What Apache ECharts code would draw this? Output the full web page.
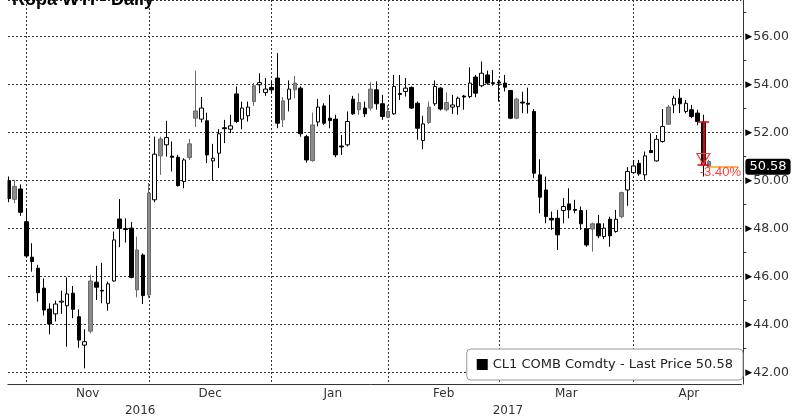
<!DOCTYPE html>
<html>
<head>
<meta charset="utf-8">
<script src="https://cdn.jsdelivr.net/npm/echarts@6/dist/echarts.min.js"></script>
<style>
  html, body { margin: 0; padding: 0; background: #fff; }
  #chart { width: 792px; height: 417px; }
</style>
</head>
<body>
<div id="chart"></div>
<script>
// trading days on the axis
const firstDay = "2016-10-25";
const lastDay = "2017-04-27";
const firstCandle = "2016-10-26";
const holidays = ["2016-11-24", "2016-12-26", "2017-01-02", "2017-01-16", "2017-02-20", "2017-04-14"];
const monthNames = ["Jan", "Feb", "Mar", "Apr", "May", "Jun", "Jul", "Aug", "Sep", "Oct", "Nov", "Dec"];

// candles 2016-10-26 .. 2017-04-20, one line per month
const opens = [
  50.00, 49.22, 49.65, 48.29,
  46.81, 46.35, 45.52, 44.65, 44.45, 44.94, 44.79, 45.31, 44.33, 43.15, 43.73, 45.77, 45.43, 44.89, 45.82, 48.40, 48.00, 48.02, 45.45, 46.90, 45.24,
  49.20, 51.03, 51.49, 51.02, 50.97, 49.96, 50.96, 52.60, 52.56, 52.49, 50.82, 51.14, 52.20, 52.14, 53.61, 52.56, 52.70, 53.29, 53.99, 53.67, 53.88,
  54.27, 52.53, 53.39, 53.78, 53.85, 51.83, 50.83, 52.44, 53.11, 52.60, 52.56, 51.44, 51.49, 53.39, 52.95, 53.02, 53.02, 53.78, 53.20, 52.64,
  52.78, 53.63, 53.71, 53.88, 53.22, 51.67, 52.42, 53.20, 53.85, 52.95, 53.06, 53.08, 53.52, 53.50, 54.31, 53.95, 54.40, 54.04, 54.10,
  54.06, 53.75, 52.60, 53.27, 53.22, 52.88, 50.24, 49.61, 48.43, 48.43, 48.75, 49.03, 48.80, 48.75, 47.99, 47.98, 48.20, 47.67, 48.39, 47.88, 48.50, 49.61, 50.33,
  50.72, 50.24, 51.25, 50.82, 51.63, 52.35, 53.15, 53.43, 52.88, 52.95, 52.81, 52.43, 50.79
];
const closes = [
  49.25, 49.76, 48.68, 46.86,
  46.63, 45.33, 44.61, 44.03, 44.86, 44.98, 45.28, 44.64, 43.36, 43.29, 45.82, 45.56, 45.40, 45.70, 47.53, 48.02, 47.96, 45.97, 47.11, 45.21, 49.48,
  51.10, 51.73, 51.79, 50.97, 49.79, 50.86, 51.53, 52.90, 53.02, 51.07, 50.93, 51.95, 52.16, 52.28, 52.46, 53.02, 53.06, 53.95, 54.08, 53.81, 53.78,
  52.39, 53.32, 53.81, 54.06, 51.95, 50.86, 52.32, 53.06, 52.39, 52.50, 51.07, 51.40, 52.46, 52.78, 53.25, 52.78, 53.81, 53.20, 52.67, 52.88,
  53.92, 53.59, 53.85, 53.02, 52.18, 52.36, 53.06, 53.92, 52.98, 53.25, 53.15, 53.43, 53.48, 54.06, 53.64, 54.47, 54.06, 54.08, 54.06,
  53.89, 52.60, 53.39, 53.23, 53.18, 50.31, 49.31, 48.50, 48.36, 47.74, 48.92, 48.78, 48.76, 48.20, 47.32, 48.20, 47.70, 48.02, 47.70, 48.39, 49.50, 50.38, 50.61,
  50.28, 51.03, 51.17, 51.72, 52.25, 53.06, 53.43, 53.20, 53.22, 52.67, 52.46, 50.65, 50.58
];
const lows = [
  49.10, 49.06, 48.53, 46.83,
  46.21, 44.96, 44.38, 43.60, 44.13, 44.45, 43.08, 44.27, 43.04, 42.18, 43.64, 45.03, 44.89, 44.58, 45.79, 47.23, 47.42, 45.93, 45.14, 44.86, 45.10,
  49.10, 50.24, 51.00, 50.38, 49.75, 49.68, 50.86, 52.23, 52.42, 50.73, 50.00, 50.52, 51.56, 51.98, 52.39, 52.14, 52.46, 53.11, 53.64, 53.53, 53.64,
  52.18, 52.23, 52.88, 53.43, 51.83, 50.75, 50.79, 52.26, 52.32, 52.18, 50.97, 51.07, 51.42, 52.74, 52.74, 52.64, 52.92, 52.95, 52.53, 52.60,
  52.74, 53.36, 53.50, 52.98, 51.70, 51.31, 52.36, 53.11, 52.92, 52.88, 52.78, 52.74, 52.95, 53.43, 53.47, 53.89, 53.99, 53.95, 53.29,
  53.71, 52.56, 52.56, 52.81, 52.79, 50.10, 48.64, 48.22, 47.95, 47.11, 48.22, 48.43, 48.64, 47.95, 47.25, 47.04, 47.60, 47.56, 47.25, 47.83, 48.43, 48.95, 50.31,
  50.20, 50.03, 51.14, 50.79, 51.58, 52.32, 52.81, 52.81, 52.80, 52.60, 52.30, 50.17, 50.55
];
const highs = [
  50.17, 50.03, 49.84, 48.85,
  47.39, 46.49, 45.93, 44.89, 45.00, 45.42, 45.97, 45.61, 44.64, 43.81, 46.07, 46.45, 46.58, 45.79, 47.88, 49.23, 48.43, 48.27, 47.67, 46.97, 49.90,
  51.83, 51.83, 52.49, 51.63, 51.07, 50.93, 51.73, 54.58, 53.48, 52.83, 51.53, 52.14, 52.53, 52.74, 53.92, 53.29, 53.29, 54.06, 54.47, 54.27, 54.13,
  55.31, 53.48, 54.17, 54.36, 53.92, 51.90, 52.83, 53.40, 53.22, 53.57, 52.74, 51.90, 52.88, 53.53, 53.64, 53.29, 54.10, 54.13, 53.57, 53.15,
  54.40, 54.40, 54.27, 53.92, 53.29, 52.70, 53.29, 54.17, 53.89, 53.67, 53.57, 53.50, 53.57, 54.72, 54.40, 54.96, 54.58, 54.60, 54.20,
  54.40, 53.78, 53.45, 53.70, 53.87, 52.98, 50.89, 50.17, 48.71, 48.78, 49.27, 49.68, 49.20, 48.92, 48.78, 48.25, 48.57, 48.22, 48.50, 48.78, 49.54, 50.56, 50.86,
  50.86, 51.21, 51.97, 51.90, 52.98, 53.15, 53.53, 53.81, 53.36, 53.15, 52.95, 52.74, 50.86
];
// w = hollow, b = black, g = gray
const shades = (
  "bgbb" +
  "bbbbwwwbbwgbbwwbbbgbg" +
  "wgwbbwggwbwwbwbwwgwwb" +
  "bgwgbbgwbbbbwbgbgbbg" +
  "wbwbbwgwbgwwbwbwbwb" +
  "bbgbbbbbbbwbbbbgbwbwgww" +
  "bwbwwgwbwbbbg"
).split("");

const seriesName = "CL1 COMB Comdty - Last Price 50.58";
const lastPrice = 50.58;
const pctFrom = 52.43;
const pctTo = 50.65;
const pctText = "-3.40%";

// build category list of trading days
const categories = [];
for (let d = new Date(firstDay + "T00:00:00Z"); d <= new Date(lastDay + "T00:00:00Z"); d.setUTCDate(d.getUTCDate() + 1)) {
  const s = d.toISOString().slice(0, 10);
  const wd = d.getUTCDay();
  if (wd === 0 || wd === 6 || holidays.includes(s)) continue;
  categories.push(s);
}
const n = categories.length;
const start = categories.indexOf(firstCandle);
const lastIdx = start + opens.length - 1;

const shadeStyle = {
  w: { color: "#fff", color0: "#fff", borderColor: "#000", borderColor0: "#000" },
  b: { color: "#000", color0: "#000", borderColor: "#000", borderColor0: "#000" },
  g: { color: "#8c8c8c", color0: "#8c8c8c", borderColor: "#6a6a6a", borderColor0: "#6a6a6a" }
};

const candleData = categories.map((c, i) => {
  const k = i - start;
  if (k < 0 || k >= opens.length) return "-";
  return { value: [opens[k], closes[k], lows[k], highs[k]], itemStyle: shadeStyle[shades[k]] };
});

// last trading day of each month -> gridlines
const monthEnds = [];
const yearEnds = [];
for (let i = 0; i < n - 1; i++) {
  if (categories[i].slice(0, 7) !== categories[i + 1].slice(0, 7)) monthEnds.push(i);
  if (categories[i].slice(0, 4) !== categories[i + 1].slice(0, 4)) yearEnds.push(i);
}
const monthLabels = new Map();
const mb = monthEnds.concat([n]);
for (let j = 0; j < mb.length - 1; j++) {
  const m = +categories[mb[j] + 1].slice(5, 7);
  monthLabels.set(Math.floor((mb[j] + mb[j + 1]) / 2), monthNames[m - 1]);
}
const yearLabels = new Map();
const yb = [start].concat(yearEnds, [n]);
for (let j = 0; j < yb.length - 1; j++) {
  yearLabels.set(Math.floor((yb[j] + yb[j + 1]) / 2), categories[Math.min(yb[j] + 1, n - 1)].slice(0, 4));
}

const font = "DejaVu Sans";
const red = "#e8000b";

const chart = echarts.init(document.getElementById("chart"));
chart.setOption({
  animation: false,
  title: {
    text: "Ropa WTI - Daily",
    left: 7,
    top: -14,
    textStyle: { fontFamily: "Liberation Sans", fontWeight: "bold", fontSize: 18, color: "#000" }
  },
  legend: {
    right: 49,
    bottom: 37,
    padding: [9, 10, 9, 10],
    itemWidth: 11,
    itemHeight: 11,
    backgroundColor: "#fff",
    borderColor: "#9a9a9a",
    borderWidth: 1,
    borderRadius: 4,
    selectedMode: false,
    data: [{ name: seriesName, icon: "rect", itemStyle: { color: "#000", borderWidth: 0 } }],
    textStyle: { fontFamily: font, fontSize: 13, color: "#222" }
  },
  grid: { left: -1, right: 49, top: -1, bottom: 33 },
  xAxis: [
    {
      type: "category",
      data: categories,
      boundaryGap: true,
      axisLine: { lineStyle: { color: "#333" } },
      axisTick: { alignWithLabel: true, interval: (i) => monthEnds.includes(i), length: 4, lineStyle: { color: "#333" } },
      splitLine: { show: true, alignWithLabel: true, interval: (i) => monthEnds.includes(i), lineStyle: { color: "#333", type: [2, 2] } },
      axisLabel: {
        interval: (i) => monthLabels.has(i),
        formatter: (v, i) => monthLabels.get(i) || "",
        margin: 4,
        padding: [0, 0, 0, 6],
        color: "#333",
        fontFamily: font,
        fontSize: 12
      }
    },
    {
      type: "category",
      data: categories,
      boundaryGap: true,
      position: "bottom",
      offset: 18,
      axisLine: { show: false },
      axisTick: { alignWithLabel: true, interval: (i) => yearEnds.includes(i), length: 15, lineStyle: { color: "#555" } },
      splitLine: { show: false },
      axisLabel: {
        interval: (i) => yearLabels.has(i),
        formatter: (v, i) => yearLabels.get(i) || "",
        margin: 3,
        padding: [0, 0, 0, 6],
        color: "#333",
        fontFamily: font,
        fontSize: 12
      }
    }
  ],
  yAxis: {
    type: "value",
    position: "right",
    offset: 2,
    min: 41.53,
    max: 57.52,
    splitNumber: 8,
    axisLine: { show: true, lineStyle: { color: "#333" } },
    axisTick: { show: false },
    minorTick: { show: true, splitNumber: 2, length: 3, lineStyle: { color: "#333" } },
    splitLine: { lineStyle: { color: "#333", type: [2, 2] } },
    axisLabel: {
      showMinLabel: false,
      showMaxLabel: false,
      margin: 2,
      color: "#333",
      fontFamily: font,
      fontSize: 12.5,
      formatter: (v) => "{t|\u25B6}" + v.toFixed(2),
      rich: { t: { fontSize: 9, color: "#000", padding: [0, 1, 0, 0] } }
    }
  },
  graphic: [
    { type: "rect", left: 0, top: 0, shape: { width: 7.5, height: 392 }, style: { fill: "#fff" }, z: 100 }
  ],
  series: [
    {
      type: "candlestick",
      name: seriesName,
      barWidth: 4,
      data: candleData,
      itemStyle: shadeStyle.b,
      markLine: {
        silent: true,
        symbol: ["none", "none"],
        label: { show: false },
        data: [
          [
            {
              coord: [categories[lastIdx], lastPrice],
              lineStyle: { color: "#f5a31a", width: 1.5, type: "solid" },
              label: {
                show: true,
                position: "end",
                distance: 7,
                formatter: lastPrice.toFixed(2),
                backgroundColor: "#000",
                color: "#fff",
                padding: [2, 4, 1, 4],
                borderRadius: 3,
                fontFamily: font,
                fontSize: 13
              }
            },
            { coord: [categories[n - 1], lastPrice] }
          ],
          [
            { coord: [categories[lastIdx - 1], pctFrom], lineStyle: { color: red, width: 2, type: "solid" } },
            { coord: [categories[lastIdx - 1], pctTo] }
          ],
          [
            { coord: [categories[lastIdx - 2], pctFrom], lineStyle: { color: red, width: 1.5, type: "solid" } },
            { coord: [categories[lastIdx], pctFrom] }
          ],
          [
            { coord: [categories[lastIdx - 2], pctTo], lineStyle: { color: red, width: 1.5, type: "solid" } },
            { coord: [categories[lastIdx], pctTo] }
          ]
        ]
      },
      markPoint: {
        silent: true,
        z: 10,
        data: [
          {
            coord: [categories[lastIdx - 1], pctTo],
            symbol: "triangle",
            symbolRotate: 180,
            symbolSize: [13, 11],
            symbolOffset: [0, -6],
            itemStyle: { color: "rgba(0,0,0,0)", borderColor: "#ff3b3b", borderWidth: 1.2 },
            label: { show: false }
          },
          {
            coord: [categories[lastIdx - 1], pctTo],
            symbolSize: 0,
            label: {
              show: true,
              formatter: pctText,
              position: "bottom",
              distance: 1,
              offset: [17, 0],
              color: "#ff4040",
              fontFamily: "Liberation Sans",
              fontSize: 13
            }
          }
        ]
      }
    }
  ]
});
</script>
</body>
</html>
